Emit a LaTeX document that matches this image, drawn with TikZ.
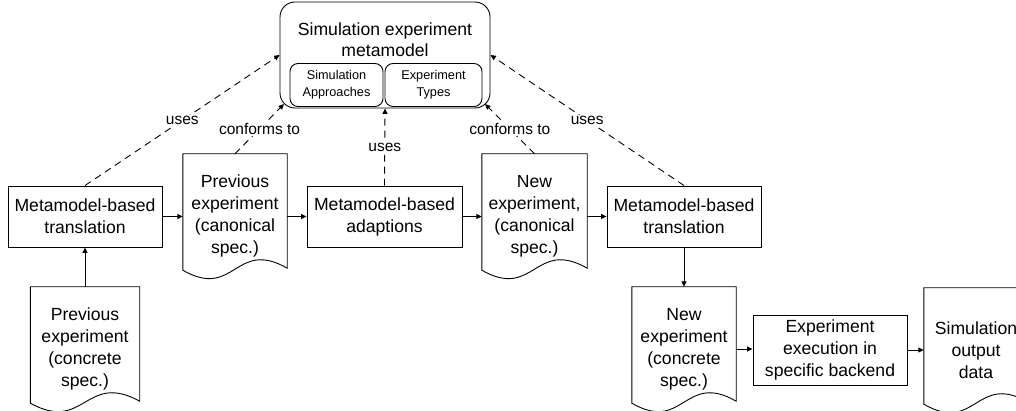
\documentclass[tikz,border=0pt]{standalone}
\usepackage{fontspec}
\setmainfont{Liberation Sans}
\usetikzlibrary{arrows.meta,calc}
\tikzset{
  box/.style={draw, line width=0.9pt, inner sep=0pt, align=center, font=\fontsize{17.6}{22}\selectfont},
  doc/.style={inner sep=0pt, align=center, font=\fontsize{17.6}{22}\selectfont, minimum height=124pt},
  docline/.style={draw, line width=0.9pt},
  inner/.style={draw, line width=0.9pt, rounded corners=8pt, inner sep=0pt, align=center, font=\fontsize{12.7}{17}\selectfont, minimum height=43pt},
  arr/.style={line width=0.9pt, -{Triangle[length=5.5pt,width=5pt]}},
  darr/.style={line width=0.9pt, dash pattern=on 7pt off 5pt, -{Triangle[length=5.5pt,width=5pt]}},
  lbl/.style={fill=white, inner sep=1.5pt, font=\fontsize{15.5}{18}\selectfont}
}
\newcommand{\docshape}[1]{%
  \path[docline] (#1.north west) -- ($(#1.south west)+(0,-8)$)
    .. controls ($(#1.south)+(0,22)$) and ($(#1.south)+(0,-40)$) .. ($(#1.south east)+(0,-10)$)
    -- (#1.north east) -- cycle;}
\begin{document}
\begin{tikzpicture}[x=1pt,y=-1pt]
\useasboundingbox (0,0) rectangle (1016,411);
% metamodel
\node[draw, line width=0.9pt, rounded corners=15pt, minimum width=210pt, minimum height=106pt, inner sep=0pt] (M) at (385,55) {};
\node[align=center, inner sep=0pt, font=\fontsize{17.6}{21}\selectfont] (Mt) at (385,40) {Simulation experiment\\metamodel};
\node[inner, minimum width=93pt] (SA) at (336.5,85) {Simulation\\Approaches};
\node[inner, minimum width=97pt] (ET) at (433.5,85) {Experiment\\Types};
% boxes
\node[box, minimum width=154pt, minimum height=61pt] (T1) at (85,216.5) {Metamodel-based\\translation};
\node[box, minimum width=155pt, minimum height=61pt] (A) at (384.5,216.5) {Metamodel-based\\adaptions};
\node[box, minimum width=154pt, minimum height=61pt] (T2) at (684,216.5) {Metamodel-based\\translation};
\node[box, minimum width=154pt, minimum height=70pt] (E) at (830,350) {Experiment\\execution in\\specific backend};
% documents
\node[doc, minimum width=104pt] (D1) at (235,216) {Previous\\experiment\\(canonical\\spec.)};
\node[doc, minimum width=105pt] (D2) at (534.5,216) {New\\experiment,\\(canonical\\spec.)};
\node[doc, minimum width=109pt] (D0) at (85,349) {Previous\\experiment\\(concrete\\spec.)};
\node[doc, minimum width=104pt] (D3) at (684,349) {New\\experiment\\(concrete\\spec.)};
\node[doc, minimum width=104pt] (D4) at (976,350) {Simulation\\output\\data};
\docshape{D1}
\docshape{D2}
\docshape{D0}
\docshape{D3}
\docshape{D4}
% coordinates
\coordinate (cL) at (284,104);
\coordinate (cR) at (485,104);
% solid arrows
\draw[arr] (D0.north) -- (T1.south);
\draw[arr] (T1.east) -- (T1.east -| D1.west);
\draw[arr] (A.west -| D1.east) -- (A.west);
\draw[arr] (A.east) -- (A.east -| D2.west);
\draw[arr] (T2.west -| D2.east) -- (T2.west);
\draw[arr] (T2.south) -- (D3.north);
\draw[arr] (D3.east) -- (D3.east -| E.west);
\draw[arr] (E.east) -- (E.east -| D4.west);
% dashed arrows
\draw[darr] (T1.north) -- node[lbl]{uses} (M.west);
\draw[darr] (D1.north) -- node[lbl]{conforms to} (cL);
\draw[darr] (A.north) -- node[lbl]{uses} (M.south);
\draw[darr] (D2.north) -- node[lbl]{conforms to} (cR);
\draw[darr] (T2.north) -- node[lbl]{uses} (M.east);
\end{tikzpicture}
\end{document}
